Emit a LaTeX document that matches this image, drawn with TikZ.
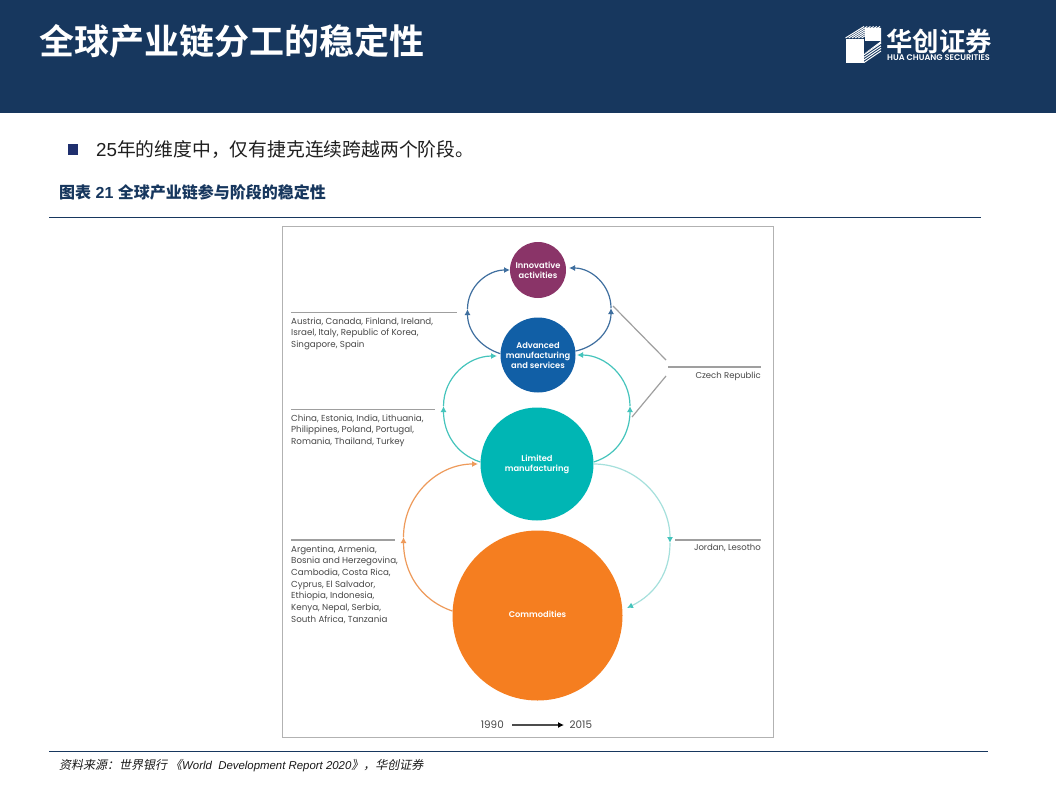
\documentclass[tikz,border=0pt]{standalone}
\usepackage{fontspec}
\usetikzlibrary{arrows.meta}
\setmainfont{Liberation Sans}
\newfontfamily\cjk{Noto Sans CJK SC}
\newfontfamily\cjkb{Noto Sans CJK SC Bold}
\newfontfamily\cjki[FakeSlant=0.2]{Noto Sans CJK SC}
\newfontfamily\libi{Liberation Sans Italic}
\newfontfamily\geo{Poppins}
\newfontfamily\geob{Poppins SemiBold}
\definecolor{navy}{HTML}{17375E}
\definecolor{bul}{HTML}{1F2F6E}
\definecolor{inno}{HTML}{8A3468}
\definecolor{adv}{HTML}{115FA6}
\definecolor{lim}{HTML}{00B6B4}
\definecolor{com}{HTML}{F57E20}
\definecolor{bluearc}{HTML}{3F6F9F}
\definecolor{tealarc}{HTML}{45C4BC}
\definecolor{palearc}{HTML}{A5E0DC}
\definecolor{orangearc}{HTML}{EE9A5A}
\tikzset{x=1pt,y=-1pt,
  stage/.style={circle,inner sep=0pt,font=\geob\fontsize{8.3}{10}\selectfont,text=white,align=center},
  callout/.style={draw=gray!75,line width=1.2pt},
  clabel/.style={anchor=north west,inner sep=0pt,font=\geo\fontsize{8.7}{11.65}\selectfont,text=black!72,align=left},
  rlabel/.style={anchor=north east,inner sep=0pt,font=\geo\fontsize{8.5}{11.65}\selectfont,text=black!72,align=right},
  flow/.style={line width=1.2pt,-{Latex[length=6pt,width=6pt]}},
}
\begin{document}
\begin{tikzpicture}
\useasboundingbox (0,0) rectangle (1056,792);
\fill[white] (0,0) rectangle (1056,792);
\fill[navy] (0,0) rectangle (1056,113);
\node[anchor=west,inner sep=0pt,text=white,font=\cjkb\fontsize{35}{35}\selectfont] (title) at (39,41) {全球产业链分工的稳定性};
% logo
\fill[white] (845.5,39) rectangle (863.5,62.5);
\fill[white] (865,28) rectangle (881,41) -- (881,43) -- (865,53) -- cycle;
\foreach \d in {0,3.2,6.4,9.6,12.8,16}{
  \draw[white,line width=1pt] (845.5+\d,38) -- (864+\d,26.5);
}
\foreach \d in {0,2.6,5.2,7.8}{
  \draw[white,line width=1pt] (864,62.5-\d) -- (881,51-\d);
}
\node[anchor=west,inner sep=0pt,text=white,font=\cjkb\fontsize{26.4}{27}\selectfont] (logocn) at (886,41) {华创证券};
\node[anchor=west,inner sep=0pt,text=white,font=\geob\fontsize{8.2}{9}\selectfont] (logoen) at (887,58) {HUA CHUANG SECURITIES};
% bullet
\fill[bul] (68,144) rectangle (78,155);
\node[anchor=west,inner sep=0pt,font=\fontsize{18.8}{19}\selectfont,text=black!88] (bullet) at (96,150) {25{\cjk 年的维度中，仅有捷克连续跨越两个阶段。}};
\node[anchor=west,inner sep=0pt,text=navy,font=\bfseries\fontsize{16}{16}\selectfont] (cap) at (59,192.5) {{\cjkb 图表} 21 {\cjkb 全球产业链参与阶段的稳定性}};
\draw[navy,line width=.9pt] (49,217) -- (981,217);
% figure frame
\draw[black!30,line width=1pt] (282,226.5) rectangle (773.5,737.5);
% stages
\node[stage,fill=inno,minimum size=56pt] (i) at (538,270) {Innovative\\activities};
\node[stage,fill=adv,minimum size=75pt] (a) at (538,355) {Advanced\\manufacturing\\and services};
\node[stage,fill=lim,minimum size=113pt] (l) at (537,464) {Limited\\manufacturing};
\node[stage,fill=com,minimum size=170pt] (c) at (537.5,615.5) {};
\node[inner sep=0pt,font=\geob\fontsize{8.3}{10}\selectfont,text=white] (ctext) at (537.5,614) {Commodities};
% mid points
\coordinate (m1) at (467.5,309);
\coordinate (m2) at (611,308);
\coordinate (m3) at (443.5,406);
\coordinate (m4) at (630,406);
\coordinate (m5) at (403.5,537);
\coordinate (m6) at (670,543);
\coordinate (e1) at (510,270);
\coordinate (e2) at (569,268);
\coordinate (e3) at (497,356);
\coordinate (e4) at (577,355);
\coordinate (e5) at (478,464);
\coordinate (e6) at (627,608);
% flows
\draw[flow,bluearc] (a.178) to[out=162,in=-90] (m1);
\draw[flow,bluearc] (m1) to[out=90,in=180] (e1);
\draw[flow,bluearc] (a.6) to[out=12,in=-90] (m2);
\draw[flow,bluearc] (m2) to[out=90,in=0] (e2);
\draw[flow,tealarc] (l.178) to[out=162,in=-90] (m3);
\draw[flow,tealarc] (m3) to[out=90,in=180] (e3);
\draw[flow,tealarc] (l.2) to[out=17,in=-90] (m4);
\draw[flow,tealarc] (m4) to[out=90,in=0] (e4);
\draw[flow,orangearc] (c.177) to[out=161,in=-90] (m5);
\draw[flow,orangearc] (m5) to[out=90,in=180] (e5);
\draw[line width=1.2pt,palearc,-{Latex[length=6pt,width=6pt,color=tealarc]}] (l.0) to[out=0,in=90] (m6);
\draw[line width=1.2pt,palearc,-{Latex[length=6pt,width=6pt,color=tealarc]}] (m6) to[out=-90,in=26] (e6);
% callouts
\draw[callout] (291,312.5) coordinate (c1a) -- (457,312.5) coordinate (c1b);
\node[clabel] (t1) at (291,317.5) {Austria, Canada, Finland, Ireland,\\Israel, Italy, Republic of Korea,\\Singapore, Spain};
\draw[callout] (291,409.5) coordinate (c2a) -- (435,409.5) coordinate (c2b);
\node[clabel] (t2) at (291,414.5) {China, Estonia, India, Lithuania,\\Philippines, Poland, Portugal,\\Romania, Thailand, Turkey};
\draw[callout] (291,540) coordinate (c3a) -- (395,540) coordinate (c3b);
\node[clabel] (t3) at (291,545.5) {Argentina, Armenia,\\Bosnia and Herzegovina,\\Cambodia, Costa Rica,\\Cyprus, El Salvador,\\Ethiopia, Indonesia,\\Kenya, Nepal, Serbia,\\South Africa, Tanzania};
\draw[callout] (675,540) coordinate (c4a) -- (761,540) coordinate (c4b);
\node[rlabel] (t4) at (761,544.5) {Jordan, Lesotho};
\draw[callout] (668,367) coordinate (c5a) -- (761,367) coordinate (c5b);
\node[rlabel] (t5) at (761,371.5) {Czech Republic};
\draw[callout] (613,306) coordinate (c6a) -- (666,360) coordinate (c6b);
\draw[callout] (632,417) coordinate (c7a) -- (666,376) coordinate (c7b);
% timeline
\node[anchor=east,inner sep=0pt,font=\geo\fontsize{10.4}{11}\selectfont,text=black!72] (y1) at (504,725) {1990};
\node[anchor=west,inner sep=0pt,font=\geo\fontsize{10.4}{11}\selectfont,text=black!72] (y2) at (569.5,725) {2015};
\coordinate (ya) at (512,725);
\coordinate (yb) at (564,725);
\draw[black!70,line width=1.1pt,-{Latex[length=6pt,width=6pt,black]}] (ya) -- (yb);
% footer
\draw[navy,line width=.9pt] (49,751) -- (988,751);
\node[anchor=west,inner sep=0pt,font=\fontsize{12}{13}\selectfont,text=black!90] (src) at (59,765.5) {{\cjki 资料来源：世界银行\kern3pt《}{\libi\fontsize{11.4}{13}\selectfont World\ \ Development Report 2020}{\cjki 》，华创证券}};
\end{tikzpicture}
\end{document}
